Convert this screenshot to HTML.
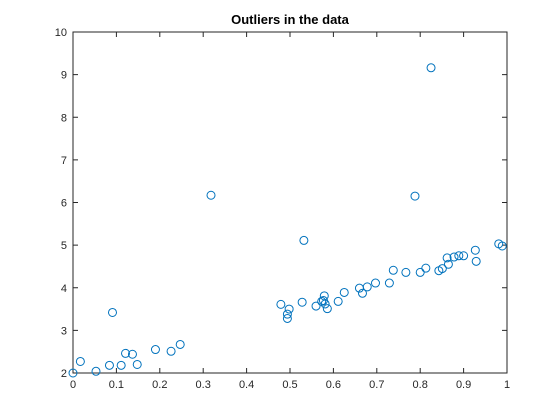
<!DOCTYPE html>
<html><head><meta charset="utf-8"><style>
html,body{margin:0;padding:0;background:#fff;}
svg{display:block;font-family:"Liberation Sans",sans-serif;}
</style></head><body>
<svg id="chart" width="560" height="420">
<rect x="0" y="0" width="560" height="420" fill="#fff"/>
<text x="290" y="24" text-anchor="middle" font-size="13" font-weight="bold" fill="#000">Outliers in the data</text>
<g id="axes"></g>
<g id="points"></g>
</svg>
<script>
const xVals = [0.0,0.017,0.053,0.091,0.084,0.111,0.121,0.137,0.148,0.190,0.226,0.247,0.318,
0.479,0.498,0.494,0.494,0.532,0.528,0.560,0.573,0.579,0.577,0.581,0.586,0.611,0.625,0.660,0.667,0.678,0.697,0.729,0.738,0.767,0.800,0.813,0.843,0.851,0.865,0.862,0.878,0.889,0.900,0.927,0.929,0.981,0.989,0.788,0.825];
const yVals = [2.0,2.27,2.04,3.42,2.18,2.18,2.46,2.44,2.20,2.55,2.51,2.67,6.17,
3.61,3.50,3.38,3.28,5.11,3.66,3.57,3.68,3.81,3.70,3.62,3.51,3.68,3.89,3.99,3.87,4.02,4.11,4.11,4.41,4.36,4.36,4.46,4.40,4.45,4.55,4.70,4.72,4.75,4.75,4.88,4.62,5.03,4.98,6.15,9.16];
const xTicks = [0,0.1,0.2,0.3,0.4,0.5,0.6,0.7,0.8,0.9,1];
const xTickLabels = ["0","0.1","0.2","0.3","0.4","0.5","0.6","0.7","0.8","0.9","1"];
const yTicks = [2,3,4,5,6,7,8,9,10];
const yTickLabels = ["2","3","4","5","6","7","8","9","10"];

const L=73,R=507,T=32,B=373;
const sx=v=>L+(v-0)/(1-0)*(R-L);
const sy=v=>B-(v-2)/(10-2)*(B-T);
const NS="http://www.w3.org/2000/svg";
const ax=document.getElementById('axes');
const pg=document.getElementById('points');
function mk(tag,attrs,parent){const e=document.createElementNS(NS,tag);for(const k in attrs)e.setAttribute(k,attrs[k]);parent.appendChild(e);return e;}

const box=mk('rect',{x:L,y:T,width:R-L,height:B-T,fill:'none',stroke:'#262626','stroke-width':1},ax);



xTicks.forEach((t,i)=>{
  const x=sx(t);
  mk('line',{x1:x,y1:B,x2:x,y2:B-5,stroke:'#262626'},ax);
  mk('line',{x1:x,y1:T,x2:x,y2:T+5,stroke:'#262626'},ax);
  const tx=mk('text',{x:x,y:B+15,'text-anchor':'middle','font-size':11,fill:'#262626'},ax);
  tx.textContent=xTickLabels[i];
  
  
});
yTicks.forEach((t,i)=>{
  const y=sy(t);
  mk('line',{x1:L,y1:y,x2:L+5,y2:y,stroke:'#262626'},ax);
  mk('line',{x1:R,y1:y,x2:R-5,y2:y,stroke:'#262626'},ax);
  const tx=mk('text',{x:L-6,y:y+4,'text-anchor':'end','font-size':11,fill:'#262626'},ax);
  tx.textContent=yTickLabels[i];
  
  
});
xVals.forEach((v,i)=>{
  const c=mk('circle',{cx:sx(v),cy:sy(yVals[i]),r:4,fill:'none',stroke:'#0072BD','stroke-width':1},pg);
  
  
});
</script>
</body></html>
